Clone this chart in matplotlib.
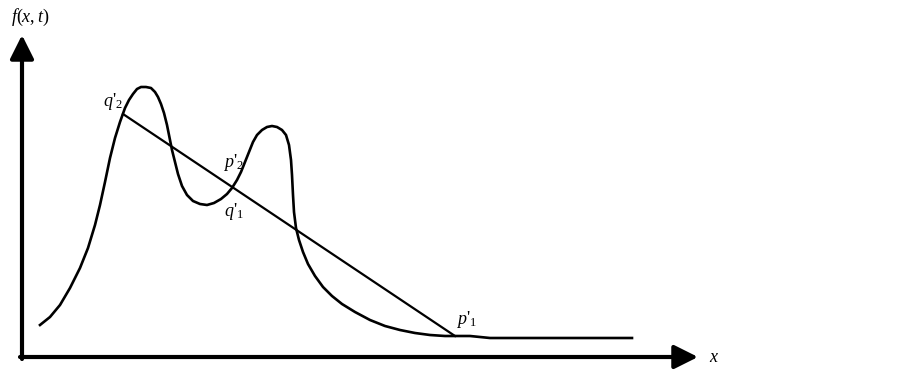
import matplotlib.pyplot as plt

plt.rcParams['font.family'] = ['Liberation Serif', 'DejaVu Serif']
plt.rcParams['mathtext.fontset'] = 'custom'
plt.rcParams['mathtext.rm'] = 'Liberation Serif'
plt.rcParams['mathtext.it'] = 'Liberation Serif:italic'

# curve (pixel coords, y down)
curve_x = [40, 50, 60, 70, 80, 88, 95, 100, 105, 110, 115, 120, 125, 129, 133,
           137, 141, 146, 151, 155, 158, 161, 164, 167, 170, 172, 175, 178,
           182, 187, 193, 200, 207, 214, 221, 227, 232, 237, 241, 245, 249,
           253, 257, 262, 267, 272, 277, 282, 286, 289, 291, 292, 293, 294,
           296, 299, 303, 308, 315, 323, 332, 342, 355, 370, 385, 400, 415,
           430, 445, 455, 470, 480, 490, 560, 632]
curve_y = [325, 317, 305, 288, 268, 248, 225, 205, 182, 158, 138, 122, 108,
           100, 94, 89, 87, 87, 88, 92, 97, 104, 113, 125, 140, 150, 162, 174,
           186, 195, 201, 204, 205, 203, 199, 194, 188, 180, 172, 162, 152,
           142, 135, 130, 127, 126, 127, 130, 135, 145, 160, 175, 195, 212,
           228, 240, 252, 264, 276, 287, 296, 304, 312, 320, 326, 330, 333,
           335, 336, 336, 336, 337, 338, 338, 338]

# chord q'2 -> p'1
chord_x = [123, 455]
chord_y = [114, 336]

fig = plt.figure(figsize=(9.02, 3.74), dpi=100)
ax = fig.add_axes([0, 0, 1, 1])
ax.set_xlim(0, 902)
ax.set_ylim(374, 0)
ax.axis('off')

ax.plot(curve_x, curve_y, color='black', lw=1.9, solid_joinstyle='round')
ax.plot(chord_x, chord_y, color='black', lw=1.6)

# axes arrows
ax.annotate('', xy=(698, 357), xytext=(20, 357),
            arrowprops=dict(arrowstyle='-|>', lw=3, color='black', mutation_scale=36,
                            shrinkA=0, shrinkB=0))
ax.annotate('', xy=(22, 35), xytext=(22, 359),
            arrowprops=dict(arrowstyle='-|>', lw=3, color='black', mutation_scale=36,
                            shrinkA=0, shrinkB=0))

fs = 13
ax.text(11, 17, r'$f(x,t)$', fontsize=fs, va='center', ha='left')
ax.text(709, 358, r'$x$', fontsize=fs, va='center', ha='left')
ax.text(103, 101, r"$q$'$_{2}$", fontsize=fs, va='center', ha='left')
ax.text(223, 162, r"$p$'$_{2}$", fontsize=fs, va='center', ha='left')
ax.text(224, 211, r"$q$'$_{1}$", fontsize=fs, va='center', ha='left')
ax.text(456, 319, r"$p$'$_{1}$", fontsize=fs, va='center', ha='left')

fig.savefig('out.png', dpi=100)
